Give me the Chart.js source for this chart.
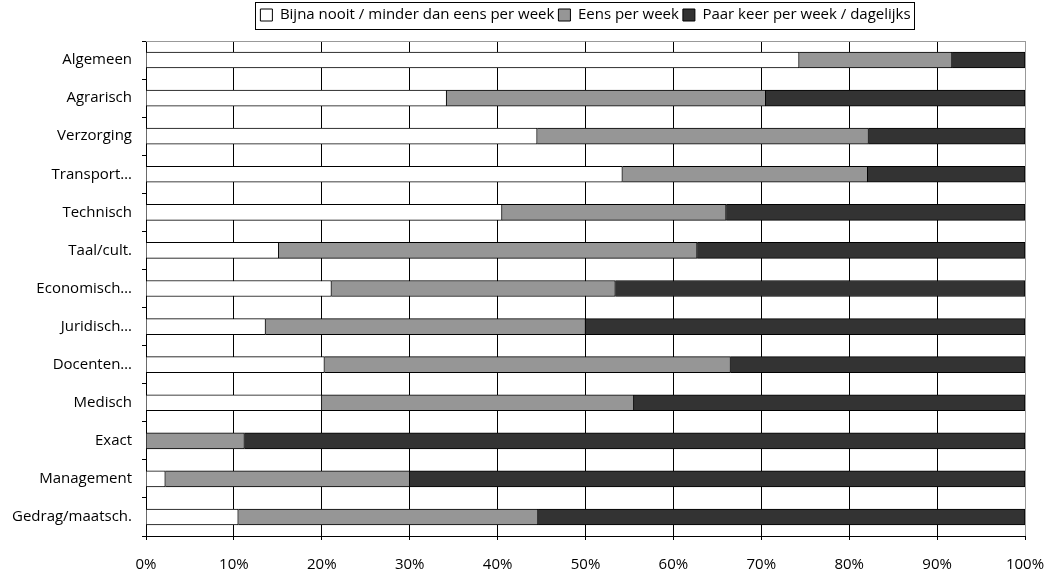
<!DOCTYPE html>
<html>
<head>
<meta charset="utf-8">
<script src="https://cdn.jsdelivr.net/npm/chart.js@4/dist/chart.umd.min.js"></script>
<style>
  html, body { margin: 0; padding: 0; background: #fff; }
  #wrap { width: 1061px; height: 587px; position: relative; }
</style>
</head>
<body>
<div id="wrap"><canvas id="c" width="1061" height="587"></canvas></div>
<script>
const categories = ["Algemeen", "Agrarisch", "Verzorging", "Transport…", "Technisch", "Taal/cult.", "Economisch…", "Juridisch…", "Docenten…", "Medisch", "Exact", "Management", "Gedrag/maatsch."];
const seriesNames = ["Bijna nooit / minder dan eens per week", "Eens per week", "Paar keer per week / dagelijks"];
const rarely = [74.3, 34.2, 44.5, 54.2, 40.5, 15.1, 21.1, 13.6, 20.3, 20.0, 0, 2.2, 10.5];
const weekly = [17.4, 36.3, 37.7, 27.9, 25.5, 47.6, 32.3, 36.4, 46.2, 35.5, 11.2, 27.8, 34.1];
const daily  = [8.3, 29.5, 17.8, 17.9, 34.0, 37.3, 46.6, 50.0, 33.5, 44.5, 88.8, 70.0, 55.4];
const xTicks = [0, 10, 20, 30, 40, 50, 60, 70, 80, 90, 100];

const FONT = "'Open Sans', sans-serif";
const FS = 15;
const colors = ["#ffffff", "#969696", "#333333"];

const frame = {
  id: 'frame',
  afterLayout(chart) {
    const lg = chart.legend;
    const a = chart.chartArea;
    lg.left = a.left; lg.right = a.right; lg.width = a.right - a.left;
    lg.top = 3.5; lg.bottom = lg.top + lg.height;
  },
  beforeDatasetsDraw(chart) {
    const {ctx, chartArea: a} = chart;
    ctx.save();
    ctx.strokeStyle = '#999999';
    ctx.lineWidth = 1;
    ctx.beginPath();
    ctx.moveTo(a.left, Math.round(a.top) + 0.5);
    ctx.lineTo(a.right, Math.round(a.top) + 0.5);
    ctx.stroke();
    ctx.restore();
  },
  afterDraw(chart) {
    const lg = chart.legend;
    const hb = lg.legendHitBoxes;
    if (!hb || !hb.length) return;
    let minX = Infinity, maxX = -Infinity, minY = Infinity, maxY = -Infinity;
    hb.forEach(h => {
      minX = Math.min(minX, h.left); maxX = Math.max(maxX, h.left + h.width);
      minY = Math.min(minY, h.top); maxY = Math.max(maxY, h.top + h.height);
    });
    const ctx = chart.ctx;
    ctx.save();
    ctx.strokeStyle = '#000';
    ctx.lineWidth = 1;
    ctx.strokeRect(Math.round(minX - 5) + 0.5, Math.round(minY - 6) + 0.5, Math.round(maxX - minX + 9), Math.round(maxY - minY + 12));
    ctx.restore();
  }
};

new Chart(document.getElementById('c'), {
  type: 'bar',
  data: {
    labels: categories,
    datasets: [
      { label: seriesNames[0], data: rarely, backgroundColor: colors[0] },
      { label: seriesNames[1], data: weekly, backgroundColor: colors[1] },
      { label: seriesNames[2], data: daily, backgroundColor: colors[2] }
    ].map(d => Object.assign(d, { borderColor: '#000', borderWidth: 1, borderSkipped: 'start', barThickness: 16 }))
  },
  options: {
    indexAxis: 'y',
    responsive: false,
    animation: false,
    devicePixelRatio: 1,
    layout: { padding: { left: 0, right: 36, top: 12, bottom: 0 } },
    plugins: {
      legend: {
        position: 'top',
        align: 'center',
        labels: {
          boxWidth: 12, boxHeight: 12, padding: 4, color: '#000',
          font: { family: FONT, size: FS }
        }
      },
      tooltip: { enabled: false }
    },
    scales: {
      x: {
        stacked: true, min: 0, max: 100,
        afterBuildTicks: s => { s.ticks = xTicks.map(v => ({ value: v })); },
        afterFit: s => { s.height = 51; },
        grid: {
          color: c => (c.tick && c.tick.value === 100) ? '#999999' : '#000000',
          lineWidth: 1, drawTicks: true, tickLength: 4, tickColor: '#000'
        },
        border: { color: '#000', width: 1 },
        ticks: { color: '#000', padding: 16, maxRotation: 0, font: { family: FONT, size: FS }, callback: v => v + '%' }
      },
      y: {
        stacked: true,
        afterFit: s => { s.width = 146; },
        grid: { offset: true, drawOnChartArea: false, drawTicks: true, tickLength: 4, color: '#000' },
        border: { color: '#000', width: 1 },
        ticks: { color: '#000', padding: 10, font: { family: FONT, size: FS } }
      }
    }
  },
  plugins: [frame]
});
</script>
</body>
</html>
